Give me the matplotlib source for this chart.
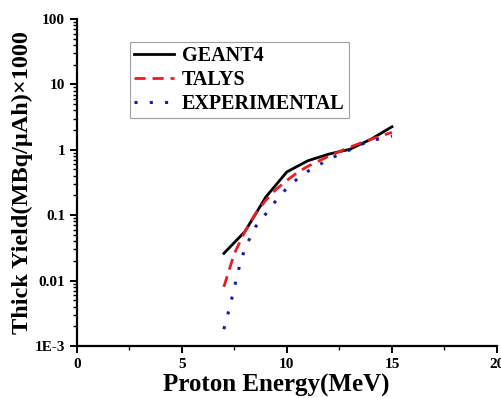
"""
    Thick yield vs proton energy (GEANT4 / TALYS / experimental)
"""

import matplotlib
matplotlib.use("Agg")
from matplotlib import pyplot as plt
from matplotlib.ticker import LogLocator, MultipleLocator, NullFormatter

# dados
e_geant4 = [7, 8, 9, 10, 11, 12, 13, 14, 15]
y_geant4 = [0.026, 0.056, 0.19, 0.46, 0.68, 0.86, 1.02, 1.45, 2.25]

e_talys = [7, 7.5, 8, 8.5, 9, 9.5, 10, 10.5, 11, 12, 13, 14, 15]
y_talys = [0.008, 0.026, 0.056, 0.105, 0.17, 0.25, 0.34, 0.45, 0.56, 0.8, 1.1, 1.45, 1.85]

e_exp = [7.0, 7.25, 7.5, 7.75, 8.0, 8.5, 9.0, 9.5, 10.0, 10.5, 11.0, 11.5,
         12.0, 12.5, 13.0, 13.5, 14.0, 14.5, 15.0]
y_exp = [0.0018, 0.0036, 0.0078, 0.017, 0.031, 0.066, 0.105, 0.17, 0.26, 0.36,
         0.47, 0.58, 0.72, 0.85, 1.0, 1.2, 1.36, 1.5, 1.63]

y_ticks = [1e-3, 1e-2, 1e-1, 1, 10, 100]
y_ticklabels = ["1E-3", "0.01", "0.1", "1", "10", "100"]
x_ticks = [0, 5, 10, 15, 20]

plt.rcParams["font.family"] = ["Liberation Serif", "DejaVu Serif"]
plt.rcParams["font.weight"] = "bold"

fig = plt.figure(figsize=(5.02, 3.98), dpi=100)
ax = fig.add_axes([0.153, 0.131, 0.837, 0.821])

ax.plot(e_geant4, y_geant4, color="black", lw=2.0, label="GEANT4")
ax.plot(e_talys, y_talys, color="#e32028", lw=2.0, linestyle=(0, (4, 2.5)), label="TALYS")
ax.plot(e_exp, y_exp, color="#1c1c96", lw=2.2, linestyle=(0, (1, 4)), label="EXPERIMENTAL")

ax.set_yscale("log")
ax.set_xlim(0, 20)
ax.set_ylim(1e-3, 100)

ax.set_yticks(y_ticks)
ax.set_yticklabels(y_ticklabels)
ax.yaxis.set_minor_locator(LogLocator(base=10, subs=range(2, 10), numticks=20))
ax.yaxis.set_minor_formatter(NullFormatter())
ax.set_xticks(x_ticks)
ax.xaxis.set_minor_locator(MultipleLocator(2.5))

ax.spines["top"].set_visible(False)
ax.spines["right"].set_visible(False)
ax.spines["left"].set_linewidth(1.6)
ax.spines["bottom"].set_linewidth(1.6)
ax.tick_params(which="major", direction="out", length=5, width=1.4, labelsize=11)
ax.tick_params(which="minor", direction="out", length=3, width=1.0)
for lab in ax.get_xticklabels() + ax.get_yticklabels():
    lab.set_fontweight("bold")

ax.set_xlabel("Proton Energy(MeV)", fontsize=18, fontweight="bold", labelpad=2.5)
ax.xaxis.label.set_x(0.474)
ax.set_ylabel("Thick Yield(MBq/μAh)×1000", fontsize=17.5, fontweight="bold", labelpad=1)

leg = ax.legend(loc="upper left", bbox_to_anchor=(0.126, 0.93),
                prop={"weight": "bold", "size": 14.5}, frameon=True, fancybox=False,
                edgecolor="#888888", handlelength=2.0, borderpad=0.2,
                labelspacing=0.2, handletextpad=0.4, borderaxespad=0)
leg.get_frame().set_linewidth(0.8)

plt.savefig("out.png", dpi=100)
